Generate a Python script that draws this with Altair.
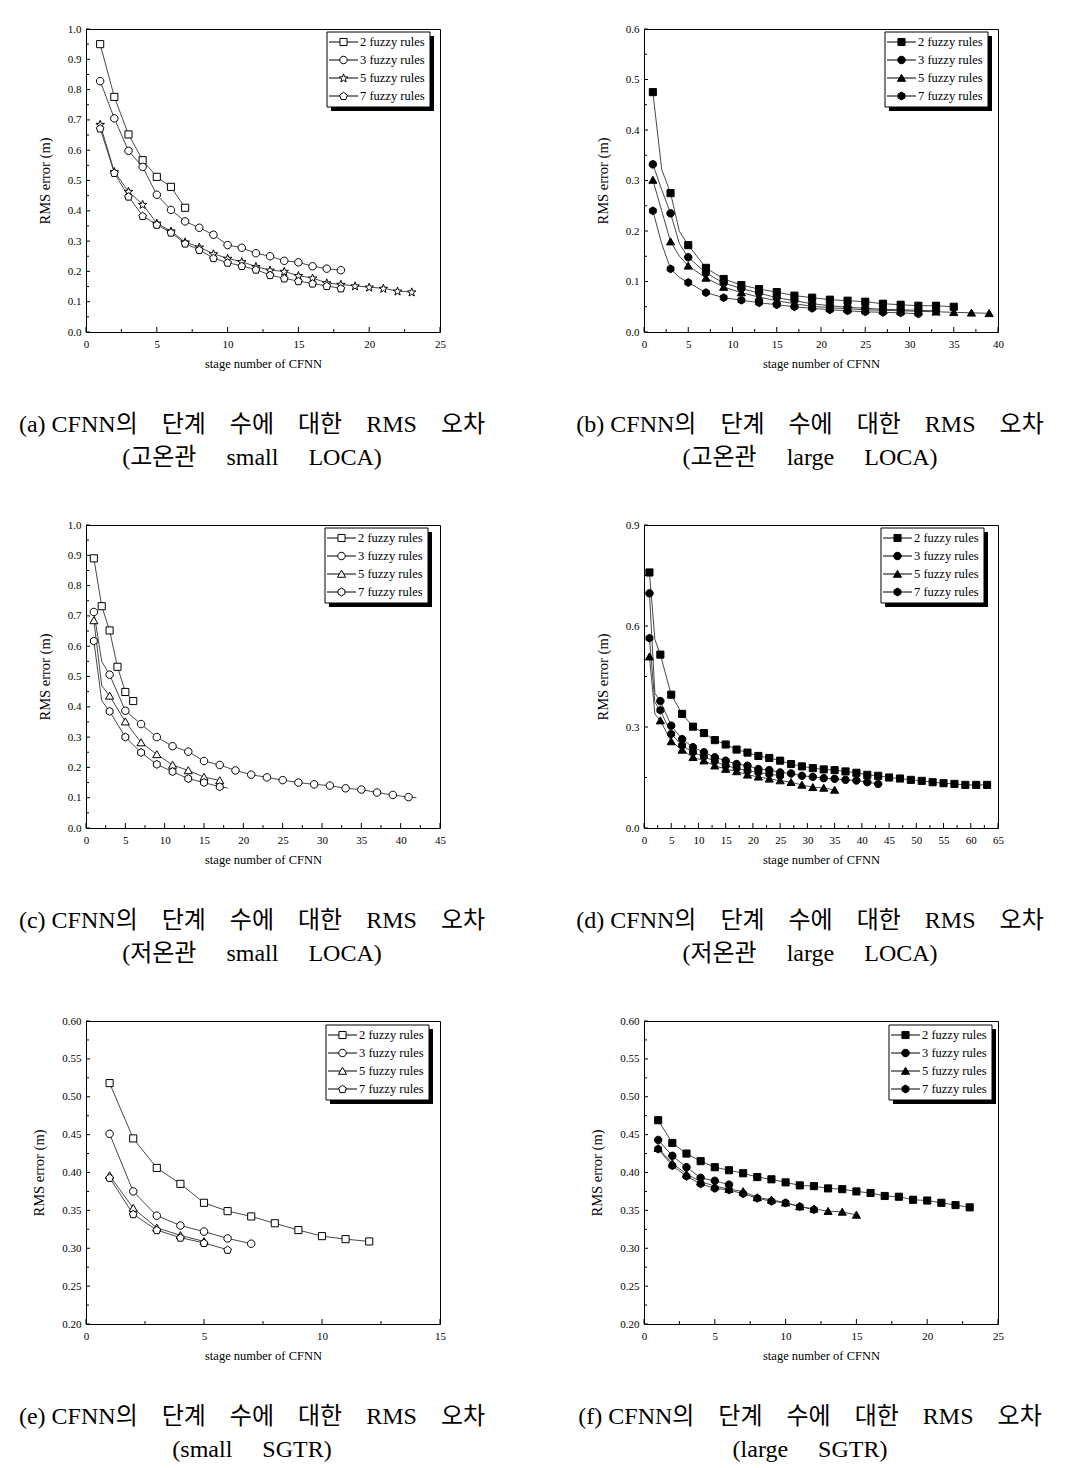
import math
import numpy as np
import pandas as pd
import altair as alt

NAMES = ["2 fuzzy rules", "3 fuzzy rules", "5 fuzzy rules", "7 fuzzy rules"]

# ---------------- (a) ----------------
A_X2 = [1, 2, 3, 4, 5, 6, 7]
A_Y2 = [0.950, 0.776, 0.652, 0.567, 0.512, 0.479, 0.410]
A_X3 = list(range(1, 19))
A_Y3 = [0.828, 0.705, 0.598, 0.545, 0.453, 0.403, 0.365, 0.344, 0.321, 0.287,
        0.278, 0.260, 0.250, 0.235, 0.230, 0.217, 0.209, 0.204]
A_X5 = list(range(1, 24))
A_Y5 = [0.685, 0.529, 0.464, 0.421, 0.359, 0.333, 0.297, 0.280, 0.258, 0.243,
        0.232, 0.216, 0.204, 0.200, 0.186, 0.178, 0.162, 0.157, 0.152, 0.148,
        0.144, 0.135, 0.132]
A_X7 = list(range(1, 19))
A_Y7 = [0.672, 0.525, 0.447, 0.383, 0.354, 0.328, 0.292, 0.271, 0.244, 0.229,
        0.218, 0.206, 0.188, 0.177, 0.168, 0.160, 0.152, 0.144]

# ---------------- (b) ----------------
B_X2 = [1, 2, 3, 4, 5, 7, 9, 11, 13, 15, 17, 19, 21, 23, 25, 27, 29, 31, 33, 35]
B_Y2 = [0.475, 0.322, 0.275, 0.199, 0.172, 0.127, 0.105, 0.093, 0.085, 0.079,
        0.072, 0.068, 0.064, 0.062, 0.060, 0.056, 0.054, 0.052, 0.052, 0.050]
B_X3 = [1, 2, 3, 4, 5, 7, 9, 11, 13, 15, 17, 19, 21, 23, 25, 27, 29, 31, 33]
B_Y3 = [0.332, 0.282, 0.235, 0.175, 0.148, 0.117, 0.097, 0.086, 0.077, 0.068,
        0.062, 0.056, 0.052, 0.049, 0.047, 0.045, 0.044, 0.043, 0.042]
B_X5 = [1, 2, 3, 4, 5, 7, 9, 11, 13, 15, 17, 19, 21, 23, 25, 27, 29, 31, 33, 35, 37, 39]
B_Y5 = [0.301, 0.240, 0.179, 0.150, 0.131, 0.107, 0.089, 0.078, 0.069, 0.062,
        0.056, 0.051, 0.048, 0.046, 0.044, 0.043, 0.042, 0.041, 0.040, 0.039,
        0.038, 0.037]
B_X7 = [1, 2, 3, 4, 5, 7, 9, 11, 13, 15, 17, 19, 21, 23, 25, 27, 29, 31]
B_Y7 = [0.240, 0.175, 0.125, 0.108, 0.098, 0.078, 0.068, 0.063, 0.058, 0.054,
        0.050, 0.047, 0.044, 0.042, 0.040, 0.039, 0.038, 0.036]

# ---------------- (c) ----------------
C_X2 = [1, 2, 3, 4, 5, 6]
C_Y2 = [0.890, 0.732, 0.652, 0.532, 0.449, 0.419]
C_X3 = [1, 2, 3, 5, 7, 9, 11, 13, 15, 17, 19, 21, 23, 25, 27, 29, 31, 33, 35, 37, 39, 41, 42]
C_Y3 = [0.713, 0.550, 0.506, 0.387, 0.343, 0.300, 0.270, 0.252, 0.221, 0.208,
        0.190, 0.176, 0.167, 0.158, 0.150, 0.144, 0.140, 0.131, 0.127, 0.117,
        0.109, 0.102, 0.100]
C_X5 = [1, 2, 3, 5, 7, 9, 11, 13, 15, 17]
C_Y5 = [0.685, 0.470, 0.436, 0.351, 0.282, 0.243, 0.208, 0.190, 0.168, 0.157]
C_X7 = [1, 2, 3, 5, 7, 9, 11, 13, 15, 17, 18]
C_Y7 = [0.617, 0.420, 0.385, 0.300, 0.249, 0.210, 0.186, 0.163, 0.150, 0.136, 0.132]

# ---------------- (d) ----------------
D_X2 = [1, 2, 3, 5, 7, 9, 11, 13, 15, 17, 19, 21, 23, 25, 27, 29, 31, 33, 35,
        37, 39, 41, 43, 45, 47, 49, 51, 53, 55, 57, 59, 61, 63]
D_Y2 = [0.759, 0.560, 0.515, 0.396, 0.339, 0.301, 0.282, 0.261, 0.248, 0.233,
        0.224, 0.214, 0.208, 0.200, 0.190, 0.183, 0.178, 0.174, 0.172, 0.168,
        0.164, 0.158, 0.155, 0.150, 0.147, 0.143, 0.140, 0.136, 0.133, 0.131,
        0.128, 0.128, 0.128]
D_X3 = [1, 2, 3, 5, 7, 9, 11, 13, 15, 17, 19, 21, 23, 25, 27, 29, 31, 33, 35,
        37, 39, 41, 43]
D_Y3 = [0.697, 0.400, 0.377, 0.304, 0.264, 0.240, 0.225, 0.210, 0.200, 0.190,
        0.185, 0.175, 0.172, 0.165, 0.162, 0.155, 0.152, 0.148, 0.146, 0.143,
        0.141, 0.136, 0.131]
D_X5 = [1, 2, 3, 5, 7, 9, 11, 13, 15, 17, 19, 21, 23, 25, 27, 29, 31, 33, 35]
D_Y5 = [0.509, 0.339, 0.319, 0.257, 0.232, 0.210, 0.200, 0.185, 0.175, 0.168,
        0.158, 0.152, 0.146, 0.141, 0.136, 0.128, 0.121, 0.119, 0.113]
D_X7 = [1, 2, 3, 5, 7, 9, 11, 13, 15, 17, 19, 21, 23, 25]
D_Y7 = [0.564, 0.373, 0.350, 0.279, 0.245, 0.225, 0.212, 0.198, 0.185, 0.178,
        0.170, 0.165, 0.160, 0.155]

# ---------------- (e) ----------------
E_X2 = list(range(1, 13))
E_Y2 = [0.518, 0.445, 0.406, 0.385, 0.360, 0.349, 0.342, 0.333, 0.324, 0.316, 0.312, 0.309]
E_X3 = list(range(1, 8))
E_Y3 = [0.451, 0.375, 0.343, 0.330, 0.322, 0.313, 0.306]
E_X5 = list(range(1, 6))
E_Y5 = [0.396, 0.353, 0.327, 0.317, 0.309]
E_X7 = list(range(1, 7))
E_Y7 = [0.393, 0.345, 0.324, 0.314, 0.307, 0.298]

# ---------------- (f) ----------------
F_X2 = list(range(1, 24))
F_Y2 = [0.469, 0.439, 0.425, 0.415, 0.407, 0.403, 0.399, 0.394, 0.391, 0.387,
        0.383, 0.382, 0.379, 0.378, 0.375, 0.373, 0.369, 0.368, 0.364, 0.363,
        0.360, 0.357, 0.354]
F_X3 = list(range(1, 7))
F_Y3 = [0.443, 0.422, 0.407, 0.393, 0.389, 0.384]
F_X5 = list(range(1, 16))
F_Y5 = [0.432, 0.412, 0.398, 0.388, 0.382, 0.378, 0.375, 0.367, 0.364, 0.360,
        0.355, 0.352, 0.349, 0.348, 0.344]
F_X7 = list(range(1, 13))
F_Y7 = [0.431, 0.409, 0.395, 0.385, 0.379, 0.377, 0.372, 0.366, 0.362, 0.360, 0.355, 0.351]

SP = "\u00a0" * 4
SP2 = "\u00a0" * 5
CAP_HEAD = "CFNN의" + SP + "단계" + SP + "수에" + SP + "대한" + SP + "RMS" + SP + "오차"
CAPTIONS = [
    ["(a)\u00a0" + CAP_HEAD, "(고온관" + SP2 + "small" + SP2 + "LOCA)"],
    ["(b)\u00a0" + CAP_HEAD, "(고온관" + SP2 + "large" + SP2 + "LOCA)"],
    ["(c)\u00a0" + CAP_HEAD, "(저온관" + SP2 + "small" + SP2 + "LOCA)"],
    ["(d)\u00a0" + CAP_HEAD, "(저온관" + SP2 + "large" + SP2 + "LOCA)"],
    ["(e)\u00a0" + CAP_HEAD, "(small" + SP2 + "SGTR)"],
    ["(f)\u00a0" + CAP_HEAD, "(large" + SP2 + "SGTR)"],
]

SERIF = "Liberation Serif"
KFONT = "Liberation Serif, Noto Sans CJK KR"
W, H = 354, 303
LEG_W, LEG_H, LEG_ROW = 103, 75, 18


def poly(n, r=1.0, start=-90.0, dy=0.0):
    pts = []
    for k in range(n):
        a = math.radians(start + 360.0 * k / n)
        pts.append((r * math.cos(a), r * math.sin(a) + dy))
    return "M" + "L".join(f"{x:.3f},{y:.3f}" for x, y in pts) + "Z"


def star(r1=1.2, r2=0.5):
    pts = []
    for k in range(10):
        r = r1 if k % 2 == 0 else r2
        a = -math.pi / 2 + k * math.pi / 5
        pts.append((r * math.cos(a), r * math.sin(a) + 0.1))
    return "M" + "L".join(f"{x:.3f},{y:.3f}" for x, y in pts) + "Z"


SQUARE = "M-0.95,-0.95H0.95V0.95H-0.95Z"
CIRCLE = "M-1,0A1,1 0 1,1 1,0A1,1 0 1,1 -1,0Z"
TRI = poly(3, 1.25, -90, 0.25)
PENT = poly(5, 1.08, -90, 0.08)
HEX = poly(6, 1.05, -90)
STAR = star()


def frame(series):
    rows = []
    for name, xs, ys, step in series:
        for x, y in zip(xs, ys):
            rows.append({"s": name, "x": x, "y": y,
                         "m": bool(step == 1 or x % 2 == 1)})
    return pd.DataFrame(rows)


def minors(lo, hi, step):
    vals = np.arange(lo, hi + step / 2, step)
    return [round(float(v), 4) for v in vals]


def legend_layers(shapes, fillc, lx, ly):
    one = pd.DataFrame({"k": [0]})
    out = [
        alt.Chart(one).mark_rect(color="black").encode(
            x=alt.value(lx + 4), x2=alt.value(lx + LEG_W + 4),
            y=alt.value(ly + 4), y2=alt.value(ly + LEG_H + 4)),
        alt.Chart(one).mark_rect(fill="white", stroke="black", strokeWidth=1).encode(
            x=alt.value(lx), x2=alt.value(lx + LEG_W),
            y=alt.value(ly), y2=alt.value(ly + LEG_H)),
    ]
    for i, (name, shp) in enumerate(zip(NAMES, shapes)):
        row = pd.DataFrame({"s": [name]})
        yy = ly + 10 + LEG_ROW * i
        out.append(alt.Chart(row).mark_rule(color="black", strokeWidth=1).encode(
            x=alt.value(lx + 2), x2=alt.value(lx + 31), y=alt.value(yy)))
        out.append(alt.Chart(row).mark_point(
            shape=shp, size=56, filled=True, fill=fillc, stroke="black", strokeWidth=1, opacity=1
        ).encode(x=alt.value(lx + 16.5), y=alt.value(yy)))
        out.append(alt.Chart(row).mark_text(
            align="left", baseline="middle", font=SERIF, fontSize=12.5, color="black"
        ).encode(x=alt.value(lx + 33), y=alt.value(yy), text="s:N"))
    return out


def panel(df, xdom, xstep, ydom, ystep, yfmt, shapes, filled, caption, lx, ly):
    xs = alt.Scale(domain=xdom, nice=False, zero=False)
    ys = alt.Scale(domain=ydom, nice=False, zero=False)
    xmajor = minors(xdom[0], xdom[1], xstep)
    xminor = [v for v in minors(xdom[0], xdom[1], xstep / 2) if v not in xmajor]
    ymajor = minors(ydom[0], ydom[1], ystep)
    yminor = [v for v in minors(ydom[0], ydom[1], ystep / 2) if v not in ymajor]
    xax = alt.Axis(values=xmajor, format="d", ticks=False, domain=False, grid=False,
                   labelFont=SERIF, labelFontSize=11, labelPadding=6, labelColor="black",
                   labelFlush=False,
                   title="stage number of CFNN", titleFont=SERIF, titleFontSize=12.5,
                   titleFontWeight="normal", titleColor="black", titlePadding=8)
    yax = alt.Axis(values=ymajor, format=yfmt, ticks=False, domain=False, grid=False,
                   labelFont=SERIF, labelFontSize=11, labelPadding=5, labelColor="black",
                   labelFlush=False,
                   title="RMS error (m)", titleFont=SERIF, titleFontSize=14.5,
                   titleFontWeight="normal", titleColor="black", titlePadding=15)
    X = alt.X("x:Q", scale=xs, axis=xax)
    Y = alt.Y("y:Q", scale=ys, axis=yax)
    base = alt.Chart(df)
    fillc = "black" if filled else "white"
    line = base.mark_line(color="#333333", strokeWidth=0.9).encode(x=X, y=Y, detail="s:N")
    pts = base.transform_filter("datum.m").mark_point(
        filled=True, fill=fillc, stroke="black", strokeWidth=1, opacity=1, size=56
    ).encode(x=X, y=Y, shape=alt.Shape("s:N", scale=alt.Scale(domain=NAMES, range=shapes), legend=None))
    txM = alt.Chart(pd.DataFrame({"x": xmajor})).mark_rule(color="black", strokeWidth=1).encode(
        x=X, y=alt.value(H), y2=alt.value(H - 5))
    txm = alt.Chart(pd.DataFrame({"x": xminor})).mark_rule(color="black", strokeWidth=1).encode(
        x=X, y=alt.value(H), y2=alt.value(H - 3))
    tyM = alt.Chart(pd.DataFrame({"y": ymajor})).mark_rule(color="black", strokeWidth=1).encode(
        y=Y, x=alt.value(0), x2=alt.value(4))
    tym = alt.Chart(pd.DataFrame({"y": yminor})).mark_rule(color="black", strokeWidth=1).encode(
        y=Y, x=alt.value(0), x2=alt.value(3))
    layers = [line, pts, txM, txm, tyM, tym] + legend_layers(shapes, fillc, lx, ly)
    return alt.layer(*layers).properties(
        width=W, height=H,
        title=alt.TitleParams(text=caption, orient="bottom", anchor="middle", frame="group",
                              font=KFONT, fontSize=24, fontWeight="normal", lineHeight=33,
                              offset=43, dx=-11, color="black"))


pa = panel(frame([(NAMES[0], A_X2, A_Y2, 1), (NAMES[1], A_X3, A_Y3, 1),
                  (NAMES[2], A_X5, A_Y5, 1), (NAMES[3], A_X7, A_Y7, 1)]),
           [0, 25], 5, [0, 1.0], 0.1, ".1f", [SQUARE, CIRCLE, STAR, PENT], False, CAPTIONS[0], 241, 3)
pb = panel(frame([(NAMES[0], B_X2, B_Y2, 2), (NAMES[1], B_X3, B_Y3, 2),
                  (NAMES[2], B_X5, B_Y5, 2), (NAMES[3], B_X7, B_Y7, 2)]),
           [0, 40], 5, [0, 0.6], 0.1, ".1f", [SQUARE, CIRCLE, TRI, HEX], True, CAPTIONS[1], 241, 3)
pc = panel(frame([(NAMES[0], C_X2, C_Y2, 1), (NAMES[1], C_X3, C_Y3, 2),
                  (NAMES[2], C_X5, C_Y5, 2), (NAMES[3], C_X7, C_Y7, 2)]),
           [0, 45], 5, [0, 1.0], 0.1, ".1f", [SQUARE, CIRCLE, TRI, HEX], False, CAPTIONS[2], 239, 3)
pd_ = panel(frame([(NAMES[0], D_X2, D_Y2, 2), (NAMES[1], D_X3, D_Y3, 2),
                   (NAMES[2], D_X5, D_Y5, 2), (NAMES[3], D_X7, D_Y7, 2)]),
            [0, 65], 5, [0, 0.9], 0.3, ".1f", [SQUARE, CIRCLE, TRI, HEX], True, CAPTIONS[3], 237, 3)
pe = panel(frame([(NAMES[0], E_X2, E_Y2, 1), (NAMES[1], E_X3, E_Y3, 1),
                  (NAMES[2], E_X5, E_Y5, 1), (NAMES[3], E_X7, E_Y7, 1)]),
           [0, 15], 5, [0.2, 0.6], 0.05, ".2f", [SQUARE, CIRCLE, TRI, PENT], False, CAPTIONS[4], 240, 4)
pf = panel(frame([(NAMES[0], F_X2, F_Y2, 1), (NAMES[1], F_X3, F_Y3, 1),
                  (NAMES[2], F_X5, F_Y5, 1), (NAMES[3], F_X7, F_Y7, 1)]),
           [0, 25], 5, [0.2, 0.6], 0.05, ".2f", [SQUARE, CIRCLE, TRI, HEX], True, CAPTIONS[5], 245, 4)

row1 = alt.hconcat(pa, pb, spacing=204, bounds="flush").resolve_scale(shape="independent")
row2 = alt.hconcat(pc, pd_, spacing=204, bounds="flush").resolve_scale(shape="independent")
row3 = alt.hconcat(pe, pf, spacing=204, bounds="flush").resolve_scale(shape="independent")

chart = alt.vconcat(row1, row2, row3, spacing=48).resolve_scale(shape="independent").properties(
    padding={"left": 10, "top": 14, "right": 5, "bottom": 5},
    background="white",
).configure_view(stroke="black", strokeWidth=1)

chart.save("out.html", embed_options={"renderer": "svg", "actions": False})
